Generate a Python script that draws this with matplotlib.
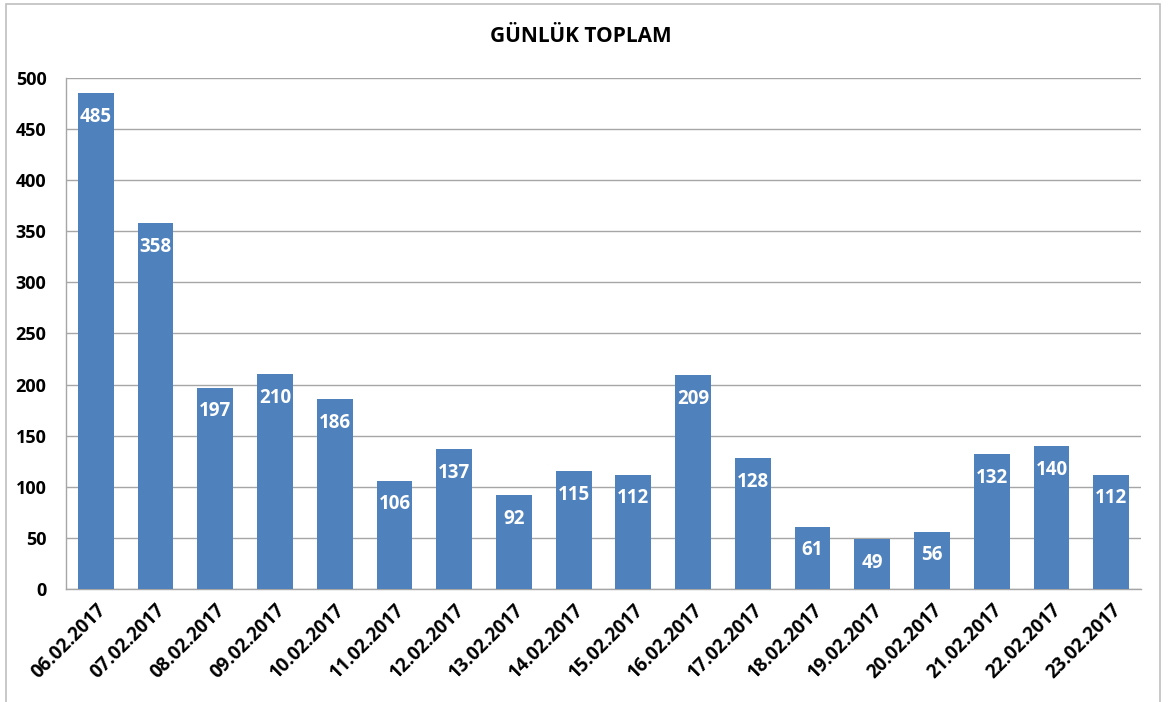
import matplotlib.pyplot as plt
import numpy as np
from matplotlib.patches import Rectangle

dates = ["06.02.2017", "07.02.2017", "08.02.2017", "09.02.2017", "10.02.2017",
         "11.02.2017", "12.02.2017", "13.02.2017", "14.02.2017", "15.02.2017",
         "16.02.2017", "17.02.2017", "18.02.2017", "19.02.2017", "20.02.2017",
         "21.02.2017", "22.02.2017", "23.02.2017"]
totals = [485, 358, 197, 210, 186, 106, 137, 92, 115, 112, 209, 128, 61, 49, 56,
          132, 140, 112]
y_ticks = [0, 50, 100, 150, 200, 250, 300, 350, 400, 450, 500]

FONT = "Open Sans"
BAR_COLOR = "#4F81BD"

fig = plt.figure(figsize=(11.69, 7.02), dpi=100)
ax = fig.add_axes([66 / 1169, 1 - 589 / 702, (1141 - 66) / 1169, (589 - 78) / 702])

# outer chart border
fig.patches.append(Rectangle((6 / 1169, -0.01), (1160 - 6) / 1169, (702 - 4) / 702 + 0.01,
                             transform=fig.transFigure, fill=False,
                             edgecolor="#BFBFBF", linewidth=1.2))

x = np.arange(len(dates))
bars = ax.bar(x, totals, width=0.6, color=BAR_COLOR, zorder=3)

for rect, v in zip(bars, totals):
    ax.annotate(str(v), xy=(rect.get_x() + rect.get_width() / 2, v),
                xytext=(0, -17), textcoords="offset points",
                ha="center", va="center", color="white",
                fontsize=13.5, fontweight="bold", family=FONT, zorder=4)

ax.set_xlim(-0.5, len(dates) - 0.5)
ax.set_ylim(0, 500)
ax.set_yticks(y_ticks)
ax.set_yticklabels([str(t) for t in y_ticks], fontsize=13, fontweight="bold", family=FONT)
ax.set_xticks(x)
ax.set_xticklabels(dates, rotation=45, ha="right", rotation_mode="anchor",
                   fontsize=13.5, fontweight="bold", family=FONT)
ax.tick_params(axis="y", length=0, pad=14)
ax.tick_params(axis="x", length=0, pad=8)

ax.yaxis.grid(True, color="#A6A6A6", linewidth=1, zorder=0)
ax.set_axisbelow(True)
for side in ("top", "right"):
    ax.spines[side].set_visible(False)
for side in ("left", "bottom"):
    ax.spines[side].set_color("#A6A6A6")
    ax.spines[side].set_linewidth(1)

fig.text(581 / 1169, 1 - 37 / 702, "GÜNLÜK TOPLAM", ha="center", va="center",
         fontsize=15, fontweight="bold", family=FONT)

fig.savefig("out.png", dpi=100)
